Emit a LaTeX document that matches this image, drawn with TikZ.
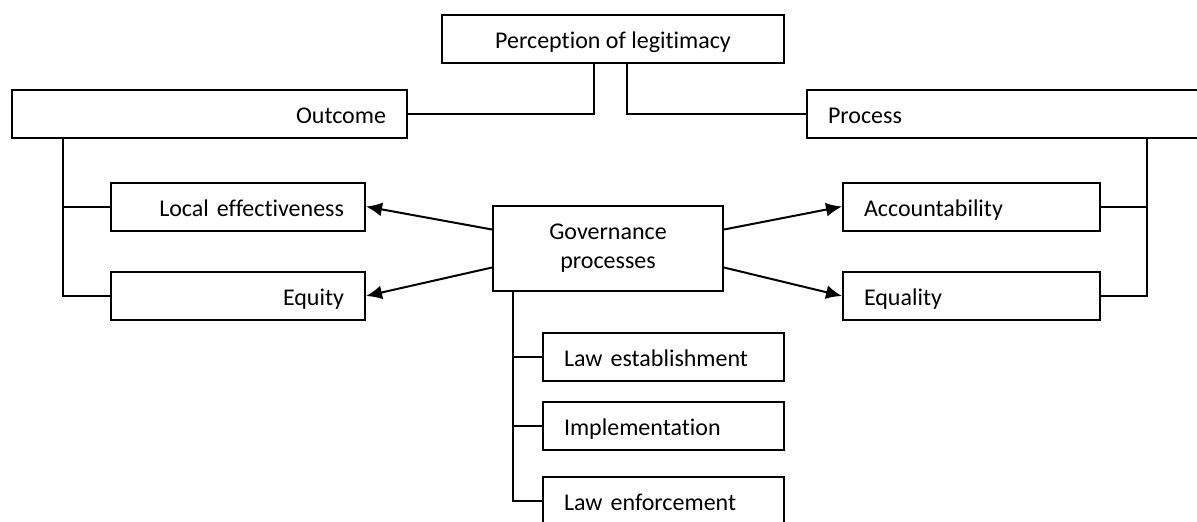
\documentclass[tikz,border=0pt]{standalone}
\usepackage{fontspec}
\setmainfont[Ligatures=NoCommon]{Carlito}
\usetikzlibrary{arrows.meta}

\begin{document}
\begin{tikzpicture}[x=0.5pt,y=-0.5pt]
	\tikzstyle{every node}=[draw,rectangle,line width=1pt,inner xsep=10.5pt,inner ysep=0pt,minimum height=24pt,font=\fontsize{12}{14.5}\selectfont]
	\tikzstyle{oneline}=[text height=9.5pt,text depth=0pt]
	\tikzstyle{conn}=[line width=1pt]
	\tikzstyle{arr}=[line width=1pt,-{Latex[length=8pt,width=7pt]}]

	\useasboundingbox (0,0) rectangle (1197,521);

	% top
	\node (perc) at (613,39) [oneline,minimum width=171pt] {Perception of legitimacy};
	\node (outc) at (209.5,114) [oneline,text width=176.5pt,align=right] {Outcome};
	\node (proc) at (1004.5,114) [oneline,text width=176.5pt,align=left] {Process};

	% middle
	\node (gov) at (608,248.5) [minimum width=115pt,minimum height=42.5pt,align=center] {Governance\\processes};
	\node (loc) at (238,206.5) [oneline,text width=106pt,align=right] {Local effectiveness};
	\node (equity) at (238,296) [oneline,text width=106pt,align=right] {Equity};
	\node (acc) at (971.5,206.5) [oneline,text width=107.5pt,align=left] {Accountability};
	\node (equal) at (971.5,296) [oneline,text width=107.5pt,align=left] {Equality};

	% bottom
	\node (lawest) at (663.5,357) [oneline,text width=99.5pt,align=left] {Law establishment};
	\node (impl) at (663.5,426) [oneline,text width=99.5pt,align=left] {Implementation};
	\node (lawenf) at (663.5,501) [oneline,text width=99.5pt,align=left] {Law enforcement};

	\draw[conn] ([xshift=-9.5pt]perc.south) |- (outc.east);
	\draw[conn] ([xshift=7pt]perc.south) |- (proc.west);

	\draw[conn] ([xshift=26pt]outc.south west) |- (loc.west);
	\draw[conn] ([xshift=26pt]outc.south west) |- (equity.west);
	\draw[conn] ([xshift=170.5pt]proc.south west) |- (acc.east);
	\draw[conn] ([xshift=170.5pt]proc.south west) |- (equal.east);

	\draw[conn] ([xshift=10.5pt]gov.south west) |- (lawest.west);
	\draw[conn] ([xshift=10.5pt]gov.south west) |- (impl.west);
	\draw[conn] ([xshift=10.5pt]gov.south west) |- (lawenf.west);

	\draw[arr] ([yshift=9.5pt]gov.west) -- (loc.east);
	\draw[arr] ([yshift=-9.5pt]gov.west) -- (equity.east);
	\draw[arr] ([yshift=9.5pt]gov.east) -- (acc.west);
	\draw[arr] ([yshift=-9.5pt]gov.east) -- (equal.west);
\end{tikzpicture}
\end{document}
